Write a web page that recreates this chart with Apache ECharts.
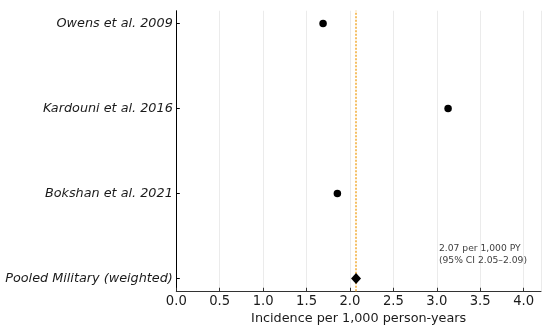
<!DOCTYPE html>
<html>
<head>
<meta charset="utf-8">
<script src="https://cdn.jsdelivr.net/npm/echarts@6/dist/echarts.min.js"></script>
<style>html,body{margin:0;padding:0;background:#fff;}#c{width:550px;height:329px;}</style>
</head>
<body>
<div id="c"></div>
<script>
var studies = ['Pooled Military (weighted)', 'Bokshan et al. 2021', 'Kardouni et al. 2016', 'Owens et al. 2009'];
var studyPos = [0, 1, 2, 3];
var incidence = [2.07, 1.855, 3.13, 1.69];
var pooledValue = 2.07;
var xTicks = [0, 0.5, 1, 1.5, 2, 2.5, 3, 3.5, 4];
var annotationLines = ['2.07 per 1,000 PY', '(95% CI 2.05\u20132.09)'];

var font = 'DejaVu Sans';
var chart = echarts.init(document.getElementById('c'), null, {renderer: 'canvas'});

var studyPts = [], pooledPts = [];
for (var i = 0; i < studies.length; i++) {
  if (i === 0) pooledPts.push([incidence[i], studyPos[i]]);
  else studyPts.push([incidence[i], studyPos[i]]);
}

chart.setOption({
  animation: false,
  backgroundColor: '#ffffff',
  grid: {left: 176.3, right: 9, top: 10.75, bottom: 37.75, containLabel: false, outerBoundsMode: 'none'},
  xAxis: {
    type: 'value', min: 0, max: 4.2, interval: 0.5,
    name: 'Incidence per 1,000 person-years', nameLocation: 'middle', nameGap: 19.5,
    nameTextStyle: {fontFamily: font, fontSize: 12.8, color: '#1a1a1a'},
    axisLine: {show: true, onZero: false, lineStyle: {color: '#333', width: 1}},
    axisTick: {show: true, inside: true, length: 3.5, lineStyle: {color: '#333'}},
    axisLabel: {fontFamily: font, fontSize: 13.2, color: '#1a1a1a', margin: 3.5,
      showMaxLabel: false,
      formatter: function (v) { return xTicks.indexOf(v) >= 0 ? v.toFixed(1) : ''; }},
    splitLine: {show: true, lineStyle: {color: '#ebebeb', width: 1}}
  },
  yAxis: {
    type: 'value', min: -0.15, max: 3.15,
    axisLine: {show: true, onZero: false, lineStyle: {color: '#000', width: 1}},
    axisTick: {show: true, inside: true, length: 3.5, customValues: studyPos, lineStyle: {color: '#000'}},
    axisLabel: {fontFamily: font, fontSize: 12.8, fontStyle: 'italic', color: '#1a1a1a', margin: 3.5,
      customValues: studyPos,
      formatter: function (v) { var k = studyPos.indexOf(v); return k >= 0 ? studies[k] : ''; }},
    splitLine: {show: false}
  },
  series: [
    {
      type: 'scatter', data: studyPts, symbol: 'circle', symbolSize: 7.5,
      itemStyle: {color: '#000', opacity: 1}, z: 5,
      markLine: {
        silent: true, symbol: 'none', label: {show: false},
        lineStyle: {color: '#f5c066', type: [2, 1.5], width: 2, opacity: 1},
        data: [{xAxis: pooledValue}]
      }
    },
    {
      type: 'scatter', data: pooledPts, symbol: 'diamond', symbolSize: [10, 11],
      itemStyle: {color: '#000', opacity: 1}, z: 6
    }
  ],
  graphic: [{
    type: 'text', right: 23, top: 242.5, z: 100,
    style: {text: annotationLines.join('\n'), fontFamily: font, fontSize: 9.2, fill: '#404040',
      align: 'right', lineHeight: 12}
  }]
});
</script>
</body>
</html>
